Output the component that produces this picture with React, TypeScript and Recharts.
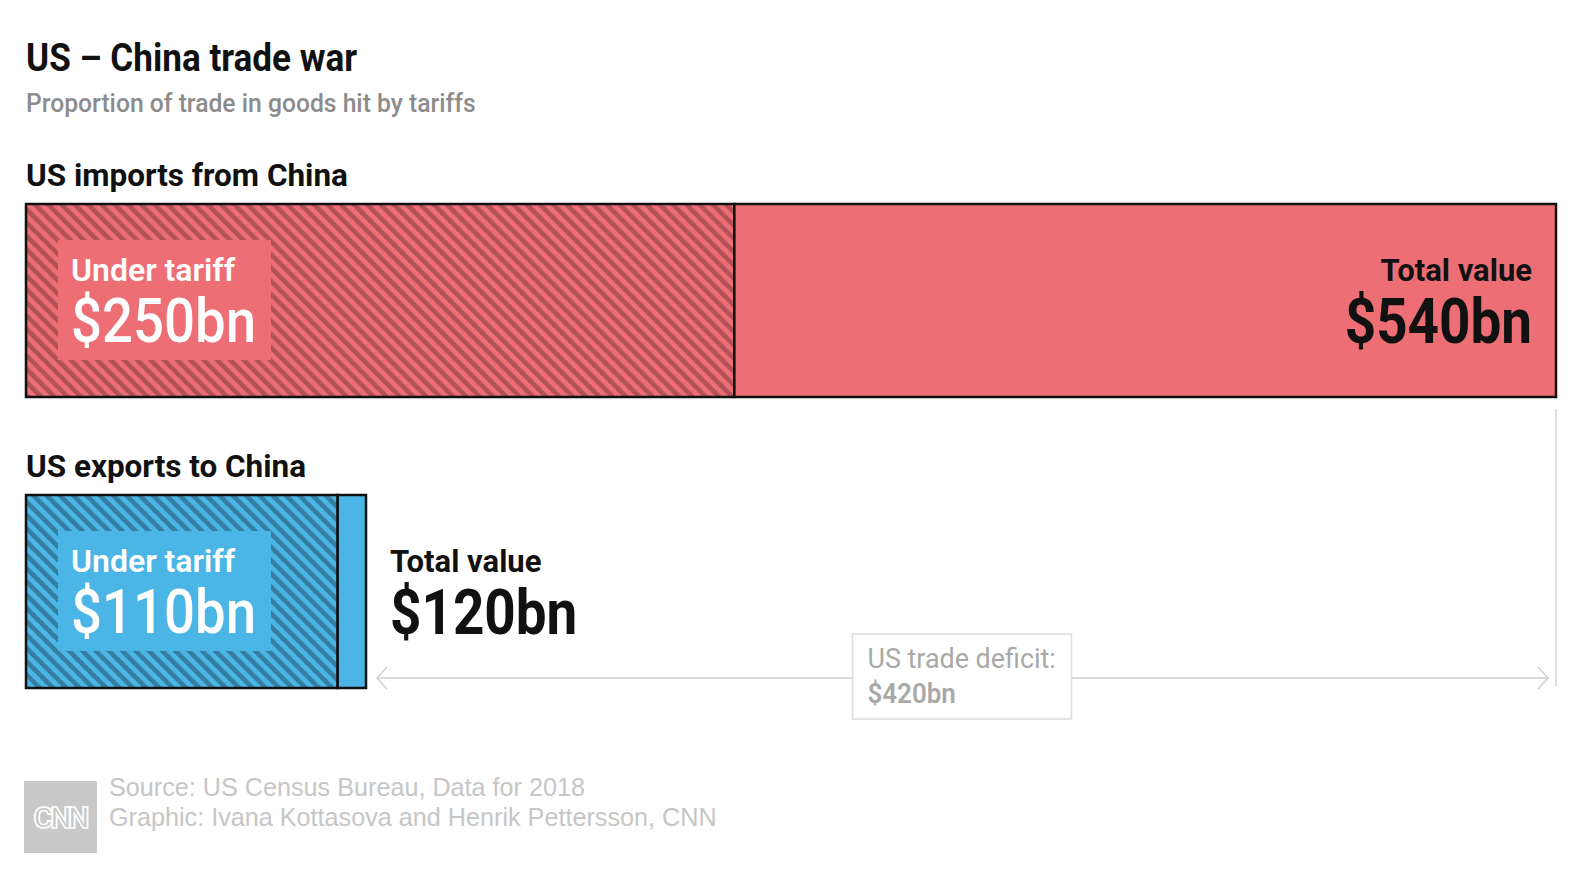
import { Bar, BarChart, Cell, LabelList, ReferenceLine, XAxis, YAxis } from "recharts";

const categories = ["US imports from China", "US exports to China"];
const underTariff = [250, 110];
const totalValue = [540, 120];
const xDomain = [0, 540];

const RED = "#ED6E74";
const BLUE = "#4BB5E6";
const solidFills = [RED, BLUE];
const hatchFills = ["url(#hatch-red)", "url(#hatch-blue)"];

const data = categories.map((name, i) => ({
  name,
  tariff: underTariff[i],
  rest: totalValue[i] - underTariff[i],
  total: totalValue[i],
}));

const W = 1594;
const H = 882;
const BAR = 193;
const FONT = "Roboto, 'Noto Sans', sans-serif";
const ARIAL = "'Liberation Sans', Arial, sans-serif";

const money = (v: number) => `$${v}bn`;

// condensed look: squeeze Roboto horizontally
function Txt({ x, y, size, weight = 400, fill = "#111", anchor = "start", sx = 0.88, family = FONT, children }: any) {
  return (
    <text
      transform={`translate(${x},${y}) scale(${sx},1)`}
      fontSize={size}
      fontWeight={weight}
      fill={fill}
      textAnchor={anchor}
      fontFamily={family}
    >
      {children}
    </text>
  );
}

const SectionLabel = (props: any) => {
  const { x, y, value } = props;
  return <Txt x={x} y={y - 18} size={31} weight={700} sx={1.015} fill="#111">{value}</Txt>;
};

const TariffLabel = (props: any) => {
  const { x, y, index, value } = props;
  const text = money(value);
  const bx = x + 32;
  const by = y + 36;
  const bw = text.length * 31 + 27;
  return (
    <g>
      <rect x={bx} y={by} width={bw} height={120} fill={solidFills[index]} />
      <Txt x={bx + 13} y={by + 41} size={32} weight={600} sx={1.0} fill="#fff">Under tariff</Txt>
      <Txt x={bx + 13} y={by + 102} size={62} weight={500} fill="#fff">{text}</Txt>
    </g>
  );
};

const TotalLabel = (props: any) => {
  const { x, y, width, value } = props;
  const inside = width > 300;
  const tx = inside ? x + width - 24 : x + width + 24;
  const anchor = inside ? "end" : "start";
  return (
    <g>
      <Txt x={tx} y={y + 77} size={31} weight={700} sx={1.0} anchor={anchor}>Total value</Txt>
      <Txt x={tx} y={y + 139} size={63} weight={700} sx={0.87} anchor={anchor}>{money(value)}</Txt>
    </g>
  );
};

const DeficitArrow = (props: any) => {
  const { x1, x2, y1 } = props;
  const y = y1 + BAR / 2 - 10;
  const left = Math.min(x1, x2) + 11;
  const right = Math.max(x1, x2) - 8;
  const mid = (left + right) / 2;
  const deficit = totalValue[0] - totalValue[1];
  return (
    <g>
      <line x1={left} y1={y} x2={right} y2={y} stroke="#cfcfcf" strokeWidth={1.5} />
      <polyline points={`${left + 10},${y - 11} ${left},${y} ${left + 10},${y + 11}`} fill="none" stroke="#cfcfcf" strokeWidth={1.5} />
      <polyline points={`${right - 10},${y - 11} ${right},${y} ${right - 10},${y + 11}`} fill="none" stroke="#cfcfcf" strokeWidth={1.5} />
      <rect x={mid - 110} y={y - 44} width={219} height={85} fill="#fff" stroke="#dcdcdc" strokeWidth={1.5} />
      <Txt x={mid - 95} y={y - 10} size={28} weight={400} sx={0.96} fill="#a9a9a9">US trade deficit:</Txt>
      <Txt x={mid - 95} y={y + 25} size={27} weight={600} sx={0.96} fill="#a9a9a9">{money(deficit)}</Txt>
    </g>
  );
};

const GuideLine = (props: any) => {
  const { x1, y1, y2 } = props;
  return <line x1={x1} y1={y1 + BAR / 2 + 12} x2={x1} y2={y2 + BAR / 2 - 2} stroke="#dedede" strokeWidth={2} />;
};

export default function App() {
  return (
    <div style={{ position: "absolute", left: 0, top: 0, width: W, height: H, background: "#fff" }}>
      <BarChart
        width={W}
        height={H}
        data={data}
        layout="vertical"
        margin={{ top: 155, right: 38, bottom: 145, left: 26 }}
        barSize={BAR}
      >
        <defs>
          <pattern id="hatch-red" patternUnits="userSpaceOnUse" width={9.4} height={9.4} patternTransform="rotate(-45)">
            <rect width={9.4} height={9.4} fill={RED} />
            <rect width={4.6} height={9.4} fill="#000" fillOpacity={0.25} />
          </pattern>
          <pattern id="hatch-blue" patternUnits="userSpaceOnUse" width={9.4} height={9.4} patternTransform="rotate(-45)">
            <rect width={9.4} height={9.4} fill={BLUE} />
            <rect width={4.6} height={9.4} fill="#000" fillOpacity={0.3} />
          </pattern>
        </defs>

        <Txt x={26} y={71} size={39} weight={700} sx={0.9} fill="#111">US – China trade war</Txt>
        <Txt x={26} y={112} size={26} weight={500} sx={0.95} fill="#8c8c8c">Proportion of trade in goods hit by tariffs</Txt>

        <XAxis type="number" domain={xDomain} hide />
        <YAxis type="category" dataKey="name" hide />

        <Bar dataKey="tariff" stackId="trade" stroke="#111" strokeWidth={2.5} isAnimationActive={false}>
          {data.map((d, i) => (
            <Cell key={d.name} fill={hatchFills[i]} />
          ))}
          <LabelList dataKey="name" content={SectionLabel} />
          <LabelList dataKey="tariff" content={TariffLabel} />
        </Bar>
        <Bar dataKey="rest" stackId="trade" stroke="#111" strokeWidth={2.5} isAnimationActive={false}>
          {data.map((d, i) => (
            <Cell key={d.name} fill={solidFills[i]} />
          ))}
          <LabelList dataKey="total" content={TotalLabel} />
        </Bar>

        <ReferenceLine
          segment={[{ x: totalValue[0], y: categories[0] }, { x: totalValue[0], y: categories[1] }]}
          shape={GuideLine}
          ifOverflow="visible"
        />
        <ReferenceLine
          segment={[{ x: totalValue[1], y: categories[1] }, { x: totalValue[0], y: categories[1] }]}
          shape={DeficitArrow}
          ifOverflow="visible"
        />

        <rect x={24} y={781} width={73} height={72} fill="#c9c9c9" />
        <text x={60} y={828} textAnchor="middle" fontSize={30} fontWeight={700} fontFamily={FONT} fill="#c9c9c9" stroke="#fff" strokeWidth={1.6} letterSpacing={-3}>
          CNN
        </text>
        <text x={109} y={796} fontSize={25.2} fontFamily={ARIAL} fill="#c6c6c6">Source: US Census Bureau, Data for 2018</text>
        <text x={109} y={826} fontSize={25.2} fontFamily={ARIAL} fill="#c6c6c6">Graphic: Ivana Kottasova and Henrik Pettersson, CNN</text>
      </BarChart>
    </div>
  );
}
